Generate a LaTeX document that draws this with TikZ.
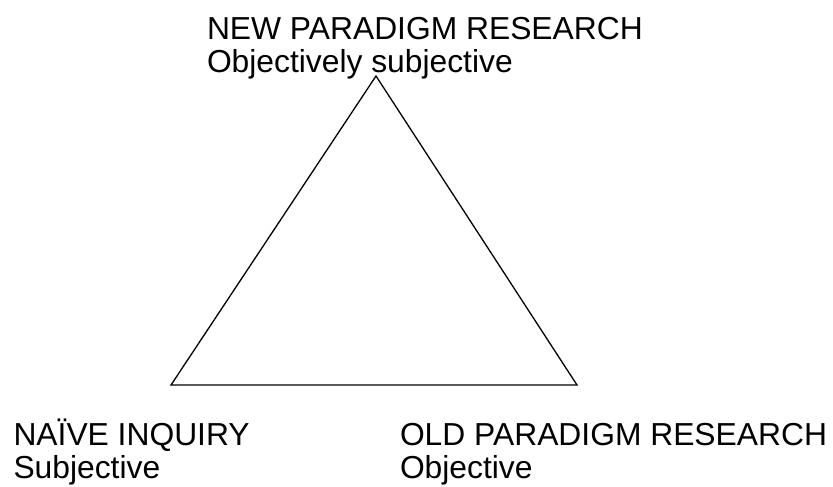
\documentclass[tikz,border=0pt]{standalone}
\usepackage{fontspec}
\setmainfont{Liberation Sans}
\begin{document}
\begin{tikzpicture}[x=1pt,y=-1pt,
  lbl/.style={anchor=base west,inner sep=0pt,outer sep=0pt,font=\fontsize{31.8}{32.5}\selectfont},
  edge/.style={draw=black,line width=1.3pt,line join=miter}]
\useasboundingbox (0,0) rectangle (833,487);
\coordinate (apex) at (376,76);
\coordinate (bl) at (171,385);
\coordinate (br) at (577,385);
\draw[edge] (apex) -- (bl) -- (br) -- cycle;
\node[lbl] (newt) at (207,40) {NEW PARADIGM RESEARCH};
\node[lbl] (news) at (207,72.5) {Objectively subjective};
\node[lbl] (naivt) at (13.5,445) {NAÏVE INQUIRY};
\node[lbl] (naivs) at (13.5,478) {Subjective};
\node[lbl] (oldt) at (400,445) {OLD PARADIGM RESEARCH};
\node[lbl] (olds) at (400,478) {Objective};
\end{tikzpicture}
\end{document}
